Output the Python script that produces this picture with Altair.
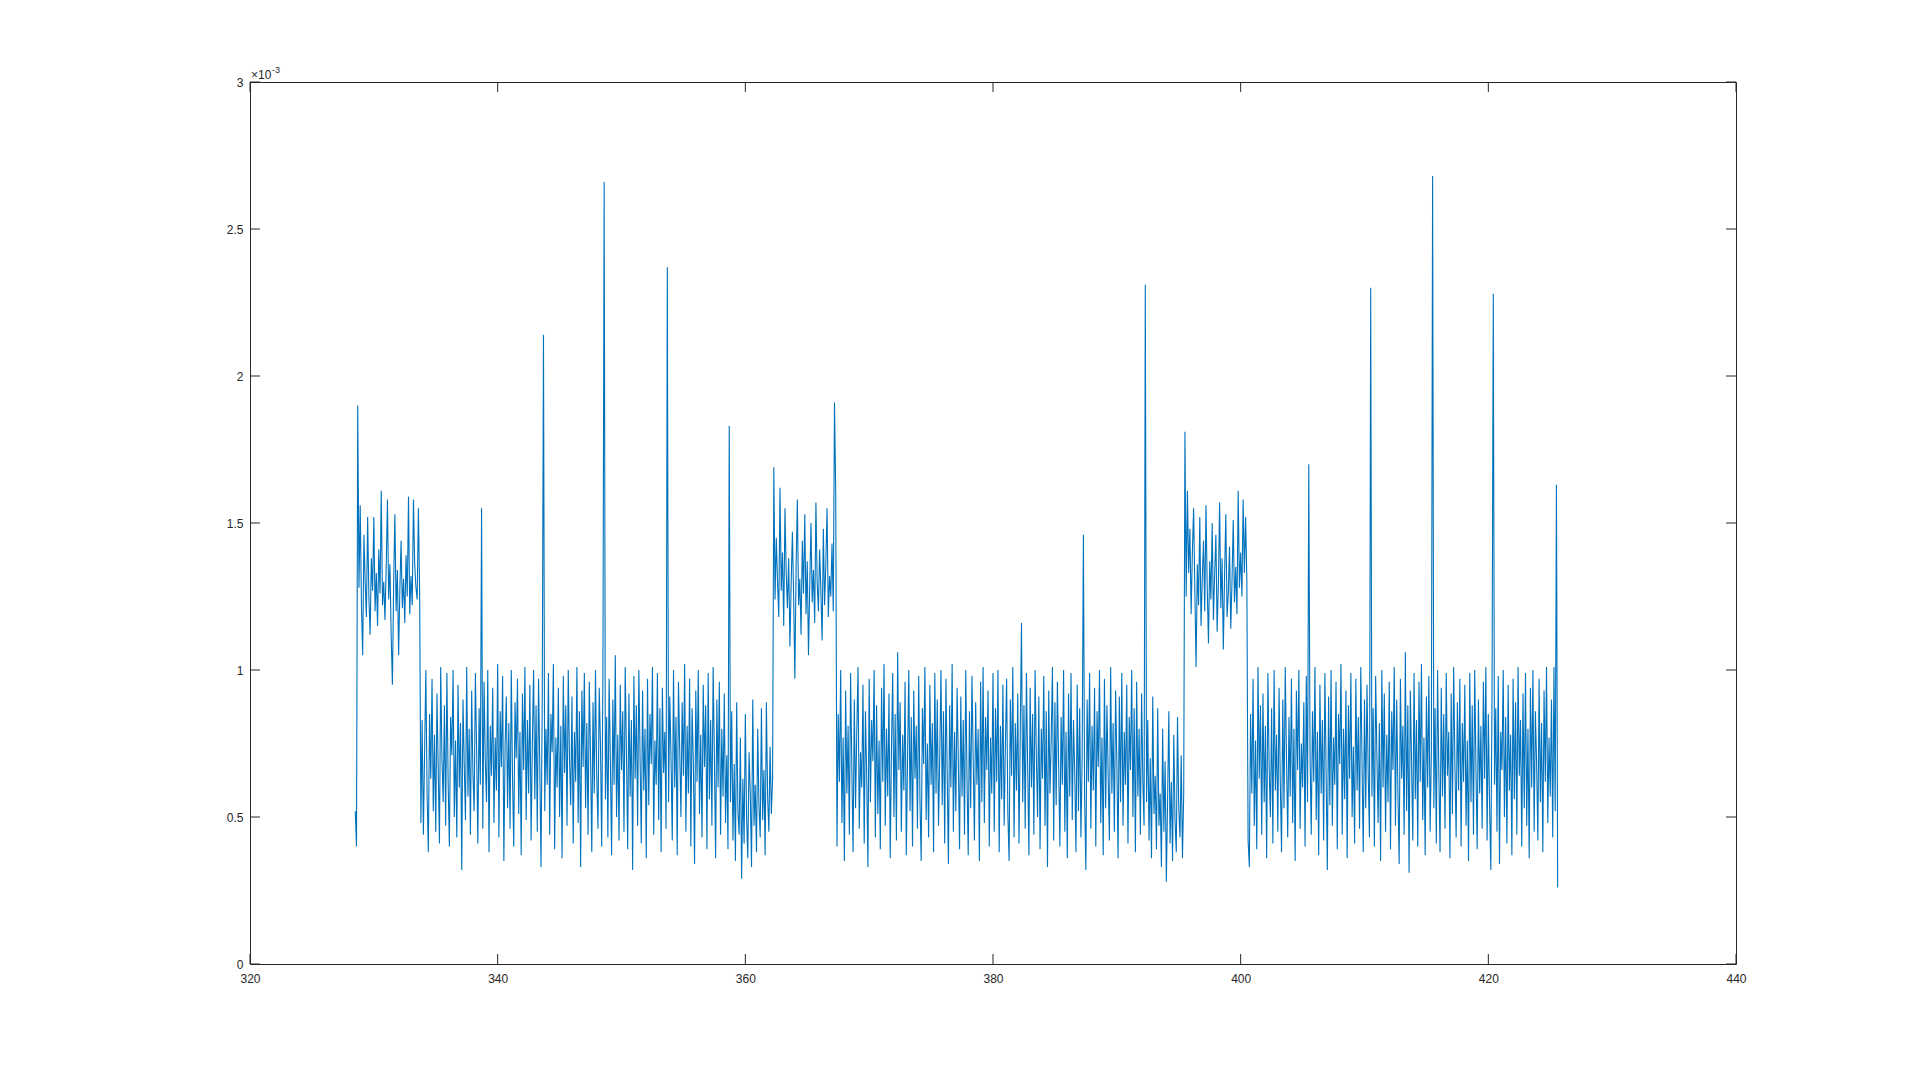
import altair as alt
import pandas as pd

# signal values in units of 1e-3, sampled every 0.1 s, one list per regime
DT = 0.1
high1_t0 = 328.5
high1 = [0.52, 0.40, 1.90, 1.28, 1.56, 1.22, 1.05, 1.46, 1.30, 1.18,
         1.52, 1.25, 1.12, 1.38, 1.27, 1.52, 1.20, 1.33, 1.15, 1.41,
         1.26, 1.61, 1.22, 1.30, 1.17, 1.35, 1.58, 1.24, 1.36, 1.12,
         0.95, 1.29, 1.53, 1.20, 1.34, 1.05, 1.27, 1.44, 1.21, 1.31,
         1.16, 1.39, 1.25, 1.59, 1.19, 1.32, 1.22, 1.58, 1.36, 1.28,
         1.24, 1.55, 1.26]

low1_t0 = 333.8
low1 = [0.48, 0.83, 0.44,
        0.72, 1.00, 0.58, 0.38, 0.85, 0.63, 0.97, 0.52, 0.78, 0.45,
        0.92, 0.66, 0.41, 1.01, 0.70, 0.55, 0.88, 0.47, 0.99, 0.62,
        0.40, 0.84, 0.71, 1.00, 0.50, 0.76, 0.43, 0.95, 0.60, 0.82,
        0.32, 0.90, 0.68, 0.49, 1.01, 0.57, 0.80, 0.44, 0.93, 0.65,
        0.52, 0.99, 0.73, 0.41, 0.87, 0.61, 1.55, 0.46, 0.96, 0.69,
        0.55, 1.00, 0.38, 0.81, 0.64, 0.94, 0.48, 0.77, 0.59, 1.02,
        0.43, 0.86, 0.67, 0.98, 0.35, 0.74, 0.91, 0.53, 0.82, 0.46,
        1.00, 0.63, 0.40, 0.89, 0.70, 0.97, 0.51, 0.79, 0.37, 0.92,
        0.66, 1.01, 0.49, 0.83, 0.58, 0.95, 0.42, 0.75, 1.00, 0.56,
        0.88, 0.45, 0.97, 0.68, 0.33, 0.90, 2.14, 0.52, 0.80, 0.61,
        0.99, 0.44, 0.85, 0.72, 1.02, 0.39, 0.77, 0.60, 0.94, 0.50,
        0.81, 0.36, 0.98, 0.65, 0.88, 0.47, 1.00, 0.70, 0.54, 0.91,
        0.41, 0.79, 0.62, 1.01, 0.48, 0.86, 0.33, 0.93, 0.67, 0.99,
        0.53, 0.82, 0.44, 0.96, 0.71, 0.38, 0.89, 0.58, 1.00, 0.64,
        0.46, 0.94, 0.75, 0.40, 0.99, 2.66, 0.56, 0.84, 0.43, 0.97,
        0.69, 0.37, 0.90, 0.61, 1.05, 0.50, 0.78, 0.42, 0.95, 0.66,
        0.86, 0.45, 1.01, 0.72, 0.39, 0.92, 0.57, 0.83, 0.32, 0.98,
        0.63, 0.88, 0.47, 1.00, 0.70, 0.41, 0.93, 0.59, 0.80, 0.36,
        0.97, 0.54, 0.85, 0.68, 1.01, 0.44, 0.76, 0.61, 0.99, 0.49,
        0.87, 0.38, 0.94, 0.65, 0.79, 0.46, 2.37, 0.55, 0.91, 0.70,
        0.42, 1.00, 0.60, 0.84, 0.37, 0.96, 0.73, 0.50, 0.89, 0.64,
        1.02, 0.45, 0.81, 0.58, 0.97, 0.40, 0.87, 0.69, 0.34, 0.93,
        0.62, 1.00, 0.51, 0.78, 0.43, 0.95, 0.67, 0.88, 0.39, 0.99,
        0.56, 0.83, 0.47, 1.01, 0.71, 0.36, 0.90, 0.60, 0.96, 0.44,
        0.80, 0.57]

lowamp1_t0 = 358.3
lowamp1 = [0.92, 0.48, 0.71, 0.39, 1.83, 0.55, 0.86, 0.42,
           0.68, 0.35, 0.89, 0.52, 0.44, 0.77, 0.29, 0.63, 0.41, 0.85,
           0.50, 0.36, 0.72, 0.58, 0.33, 0.90, 0.47, 0.61, 0.38, 0.80,
           0.54, 0.43, 0.87, 0.49, 0.66, 0.37, 0.89, 0.57, 0.45, 0.74,
           0.51, 0.63]

high2_t0 = 362.3
high2 = [1.69, 1.24, 1.45, 1.30, 1.18, 1.62, 1.27, 1.40,
         1.15, 1.55, 1.33, 1.21, 1.38, 1.08, 1.29, 1.47, 1.25, 0.97,
         1.35, 1.58, 1.22, 1.31, 1.12, 1.44, 1.26, 1.53, 1.19, 1.37,
         1.05, 1.28, 1.50, 1.23, 1.34, 1.16, 1.57, 1.30, 1.20, 1.41,
         1.27, 1.10, 1.48, 1.22, 1.36, 1.55, 1.18, 1.32, 1.25, 1.43,
         1.20, 1.91, 1.60]

low2_t0 = 367.4
low2 = [0.40, 0.85, 0.62, 1.00, 0.48, 0.77, 0.35,
        0.93, 0.58, 0.81, 0.44, 0.99, 0.67, 0.38, 0.90, 0.53, 0.79,
        1.01, 0.46, 0.72, 0.60, 0.95, 0.41, 0.86, 0.64, 0.33, 0.97,
        0.55, 0.83, 0.69, 1.00, 0.43, 0.88, 0.51, 0.76, 0.39, 0.94,
        0.62, 1.02, 0.47, 0.80, 0.57, 0.92, 0.36, 0.73, 0.99, 0.50,
        0.85, 0.42, 1.06, 0.66, 0.89, 0.45, 0.78, 0.59, 0.96, 0.37,
        0.70, 1.00, 0.52, 0.84, 0.40, 0.93, 0.63, 0.81, 0.46, 0.98,
        0.56, 0.35, 0.87, 0.68, 1.01, 0.49, 0.75, 0.43, 0.95, 0.61,
        0.82, 0.38, 0.99, 0.58, 0.90, 0.47, 0.71, 1.00, 0.54, 0.86,
        0.41, 0.97, 0.65, 0.34, 0.88, 0.60, 1.02, 0.45, 0.79, 0.52,
        0.94, 0.69, 0.39, 0.91, 0.57, 0.83, 0.44, 1.00, 0.63, 0.37,
        0.86, 0.53, 0.98, 0.70, 0.42, 0.89, 0.61, 0.80, 0.35, 0.96,
        0.55, 1.01, 0.48, 0.84, 0.66, 0.93, 0.40, 0.77, 0.58, 0.99,
        0.45, 0.87, 0.62, 1.00, 0.38, 0.81, 0.56, 0.95, 0.47, 0.74,
        0.97, 0.51, 0.35, 0.90, 0.64, 1.01, 0.43, 0.82, 0.59, 0.92,
        0.41, 0.78, 1.16, 0.55, 0.88, 0.46, 0.99, 0.67, 0.37, 0.94,
        0.60, 0.85, 0.44, 1.00, 0.71, 0.50, 0.91, 0.39, 0.80, 0.63,
        0.98, 0.47, 0.86, 0.33, 0.93, 0.58, 0.76, 1.01, 0.42, 0.89,
        0.54, 0.96, 0.68, 0.40, 0.84, 0.61, 1.00, 0.45, 0.79, 0.36,
        0.92, 0.57, 0.99, 0.49, 0.83, 0.65, 0.38, 0.95, 0.52, 0.87,
        0.43, 0.70, 1.46, 0.56, 0.32, 0.90, 0.62, 0.99, 0.46, 0.81,
        0.59, 0.94, 0.40, 0.86, 0.67, 1.00, 0.48, 0.77, 0.37, 0.97,
        0.53, 0.88, 0.64, 0.42, 1.01, 0.58, 0.82, 0.45, 0.93, 0.69,
        0.36, 0.91, 0.55, 0.99, 0.47, 0.79, 0.61, 0.95, 0.41, 0.84,
        0.66, 1.00, 0.50, 0.87, 0.38, 0.96, 0.57, 0.80, 0.44, 0.92,
        0.62, 0.47, 2.31]

lowamp2_t0 = 392.4
lowamp2 = [0.55, 0.83, 0.42, 0.70, 0.36, 0.91, 0.51,
           0.64, 0.39, 0.87, 0.47, 0.58, 0.33, 0.80, 0.45, 0.69, 0.28,
           0.56, 0.86, 0.41, 0.62, 0.35, 0.78, 0.49, 0.38, 0.84, 0.53,
           0.43, 0.71, 0.36, 0.58]

high3_t0 = 395.5
high3 = [1.81, 1.25, 1.61, 1.33, 1.48, 1.19,
         1.40, 1.55, 1.27, 1.01, 1.36, 1.22, 1.52, 1.15, 1.31, 1.44,
         1.20, 1.56, 1.28, 1.09, 1.37, 1.24, 1.50, 1.17, 1.33, 1.46,
         1.13, 1.29, 1.57, 1.21, 1.38, 1.07, 1.32, 1.53, 1.18, 1.26,
         1.42, 1.14, 1.30, 1.51, 1.23, 1.35, 1.19, 1.61, 1.28, 1.40,
         1.25, 1.58, 1.33, 1.52, 1.30]

low3_t0 = 400.6
low3 = [0.42, 0.33, 0.85, 0.58, 0.97,
        0.47, 0.76, 0.39, 1.01, 0.63, 0.88, 0.44, 0.92, 0.55, 0.81,
        0.36, 0.99, 0.67, 0.50, 0.87, 0.41, 1.00, 0.59, 0.78, 0.45,
        0.94, 0.62, 0.38, 0.90, 0.53, 1.01, 0.70, 0.43, 0.84, 0.57,
        0.97, 0.48, 0.80, 0.35, 0.93, 0.66, 1.00, 0.46, 0.75, 0.60,
        0.89, 0.40, 0.98, 0.55, 1.70, 0.72, 0.44, 0.86, 0.62, 1.01,
        0.49, 0.79, 0.37, 0.95, 0.58, 0.83, 0.42, 0.99, 0.65, 0.32,
        0.91, 0.54, 1.00, 0.47, 0.77, 0.61, 0.96, 0.39, 0.85, 0.68,
        1.02, 0.44, 0.80, 0.56, 0.93, 0.36, 0.88, 0.63, 0.99, 0.50,
        0.74, 0.41, 0.97, 0.59, 0.84, 0.46, 1.01, 0.69, 0.38, 0.90,
        0.53, 0.95, 0.64, 0.43, 2.30, 0.57, 0.87, 0.40, 0.98, 0.71,
        0.48, 0.82, 0.35, 1.00, 0.60, 0.92, 0.45, 0.78, 0.55, 0.96,
        0.39, 0.86, 0.66, 1.01, 0.47, 0.90, 0.58, 0.34, 0.97, 0.63,
        0.81, 0.44, 1.06, 0.52, 0.88, 0.31, 0.93, 0.69, 0.42, 0.99,
        0.56, 0.83, 0.40, 0.96, 0.62, 1.02, 0.49, 0.77, 0.37, 0.91,
        0.60, 0.98, 0.45, 0.72, 2.68, 0.53, 0.87, 0.41, 1.00, 0.66,
        0.38, 0.94, 0.57, 0.85, 0.46, 0.99, 0.64, 0.79, 0.36, 0.92,
        0.51, 1.01, 0.68, 0.43, 0.89, 0.59, 0.97, 0.40, 0.82, 0.62,
        0.95, 0.47, 0.76, 0.35, 0.99, 0.55, 0.88, 0.44, 1.00, 0.67,
        0.39, 0.90, 0.58, 0.81, 0.46, 0.96, 0.63, 1.01, 0.42, 0.85,
        0.54, 0.32, 0.93, 2.28, 0.61, 0.87, 0.45, 0.98, 0.34, 0.79,
        0.66, 1.00, 0.50, 0.84, 0.41, 0.95, 0.59, 0.78, 0.37, 0.97,
        0.56, 0.89, 0.44, 1.01, 0.64, 0.83, 0.40, 0.92, 0.53, 0.99,
        0.47, 0.80, 0.36, 0.94, 0.60, 1.00, 0.45, 0.86, 0.68, 0.42,
        0.97, 0.55, 0.82, 0.38, 0.93, 0.62, 1.01, 0.48, 0.77, 0.57,
        0.90, 0.43, 1.01, 0.52, 1.63, 0.26]

x_ticks = [320, 340, 360, 380, 400, 420, 440]
y_ticks = [0, 0.5, 1, 1.5, 2, 2.5, 3]

segments = [(high1_t0, high1), (low1_t0, low1), (lowamp1_t0, lowamp1),
            (high2_t0, high2), (low2_t0, low2), (lowamp2_t0, lowamp2),
            (high3_t0, high3), (low3_t0, low3)]
rows = []
for t0, vals in segments:
    for i, v in enumerate(vals):
        rows.append({"t": round(t0 + i * DT, 3), "v": v})
df = pd.DataFrame(rows)

W, H = 1486, 882
TICK = 10
AX = "#262626"
FONT = "Liberation Sans"

xs = alt.Scale(domain=[320, 440], nice=False, zero=False)
ys = alt.Scale(domain=[0, 3], nice=False)

line = alt.Chart(df).mark_line(color="#0072BD", strokeWidth=1.1, clip=True).encode(
    x=alt.X("t:Q", scale=xs,
            axis=alt.Axis(values=x_ticks, format="d", title=None, ticks=False,
                          domain=False, grid=False, labelPadding=9,
                          labelFontSize=12, labelColor=AX, labelFont=FONT,
                          labelFlush=False)),
    y=alt.Y("v:Q", scale=ys,
            axis=alt.Axis(values=y_ticks, format="~g", title=None, ticks=False,
                          domain=False, grid=False, labelPadding=7,
                          labelFontSize=12, labelColor=AX, labelFont=FONT,
                          labelFlush=False)),
)

xt = pd.DataFrame({"t": x_ticks})
yt = pd.DataFrame({"v": y_ticks})

tick_bottom = alt.Chart(xt).mark_rule(color=AX, strokeWidth=1).encode(
    x=alt.X("t:Q", scale=xs), y=alt.value(H), y2=alt.value(H - TICK))
tick_top = alt.Chart(xt).mark_rule(color=AX, strokeWidth=1).encode(
    x=alt.X("t:Q", scale=xs), y=alt.value(0), y2=alt.value(TICK))
tick_left = alt.Chart(yt).mark_rule(color=AX, strokeWidth=1).encode(
    y=alt.Y("v:Q", scale=ys), x=alt.value(0), x2=alt.value(TICK))
tick_right = alt.Chart(yt).mark_rule(color=AX, strokeWidth=1).encode(
    y=alt.Y("v:Q", scale=ys), x=alt.value(W), x2=alt.value(W - TICK))

mult = alt.Chart(pd.DataFrame({"s": ["\u00d710"]})).mark_text(
    align="left", baseline="alphabetic", fontSize=12, font=FONT, color=AX
).encode(text="s:N", x=alt.value(1), y=alt.value(-3))
expo = alt.Chart(pd.DataFrame({"s": ["-3"]})).mark_text(
    align="left", baseline="alphabetic", fontSize=9, font=FONT, color=AX
).encode(text="s:N", x=alt.value(22), y=alt.value(-9))

chart = alt.layer(line, tick_bottom, tick_top, tick_left, tick_right, mult, expo).properties(
    width=W, height=H,
    autosize=alt.AutoSizeParams(type="none"),
    padding={"left": 242, "top": 74, "right": 170, "bottom": 100},
    background="white",
).configure_view(stroke=AX, strokeWidth=1)

chart.save("out.html", embed_options={"renderer": "svg", "actions": False})
